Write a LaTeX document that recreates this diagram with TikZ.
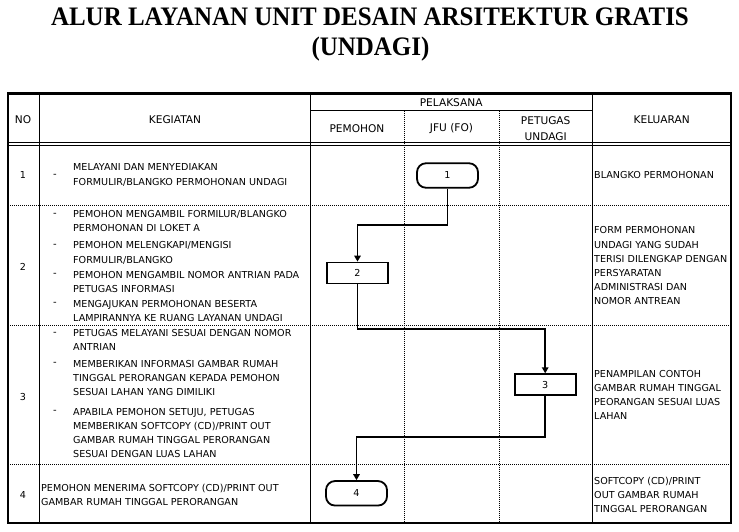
\documentclass[tikz,border=0pt]{standalone}
\usepackage{fontspec}
\setmainfont{DejaVu Sans}
\newfontfamily\titlefont{Liberation Serif}
\usetikzlibrary{arrows.meta}
\tikzset{
  gridline/.style={line width=0.8pt},
  dotline/.style={line width=0.8pt, dash pattern=on 0.9pt off 1.1pt},
  outer/.style={line width=2.6pt},
  flow/.style={line width=1.8pt, -{Triangle[length=6pt,width=6.5pt]}},
  stepbox/.style={draw, line width=1.8pt, minimum width=61pt, minimum height=21pt, inner sep=0pt, font=\fontsize{9.6}{10}\selectfont},
  termbox/.style={stepbox, rounded corners=9pt, minimum height=24.5pt},
  body/.style={inner sep=0pt, anchor=west, align=left, font=\fontsize{9.6}{14.2}\selectfont},
  hdr/.style={inner sep=0pt, align=center, font=\fontsize{10.6}{15.7}\selectfont},
  num/.style={inner sep=0pt, font=\fontsize{9.6}{12}\selectfont},
  dashmark/.style={inner sep=0pt, font=\fontsize{10}{12}\selectfont},
  ttl/.style={inner sep=0pt, anchor=base, font=\titlefont\bfseries\fontsize{26.7}{30}\selectfont},
}
\begin{document}
\begin{tikzpicture}[x=1pt,y=-1pt]
\useasboundingbox (0,0) rectangle (739,532);
% title
\node[ttl] (t1) at (370,25.5) {\scalebox{0.935}[1]{ALUR LAYANAN UNIT DESAIN ARSITEKTUR GRATIS}};
\node[ttl] (t2) at (370.5,55.5) {\scalebox{0.935}[1]{(UNDAGI)}};
% grid
\draw[gridline] (310,110.7) -- (592.3,110.7);
\draw[gridline] (8,142.7) -- (731,142.7);
\draw[gridline] (8,145.5) -- (731,145.5);
\foreach \yy in {205.7,325,464} \draw[dotline] (8,\yy) -- (731,\yy);
\foreach \xx in {404,499} \draw[dotline] (\xx,110.7) -- (\xx,523);
\foreach \xx in {39.5,310,592.3} \draw[gridline] (\xx,93.5) -- (\xx,523);
\draw[outer] (8,93.5) rectangle (731,523);
% header
\node[hdr] (hno) at (23,120) {NO};
\node[hdr] (hkeg) at (175,120) {KEGIATAN};
\node[hdr] (hpel) at (451.2,103) {PELAKSANA};
\node[hdr] (hpem) at (357,128.3) {PEMOHON};
\node[hdr] (hjfu) at (451.5,128.3) {JFU (FO)};
\node[hdr] (hpet) at (545.7,128.8) {PETUGAS\\UNDAGI};
\node[hdr] (hkel) at (661.7,120) {KELUARAN};
% row numbers
\node[num] (r1) at (23,175.5) {1};
\node[num] (r2) at (23,266.7) {2};
\node[num] (r3) at (23,396.7) {3};
\node[num] (r4) at (23,495) {4};
% activities
\node[dashmark] (d11) at (55,175.5) {-};
\node[body] (a11) at (73,175) {MELAYANI DAN MENYEDIAKAN\\FORMULIR/BLANGKO PERMOHONAN UNDAGI};
\node[dashmark] (d21) at (55,214.5) {-};
\node[body] (a21) at (73,220.8) {PEMOHON MENGAMBIL FORMILUR/BLANGKO\\PERMOHONAN DI LOKET A};
\node[dashmark] (d22) at (55,245.7) {-};
\node[body] (a22) at (73,252.8) {PEMOHON MELENGKAPI/MENGISI\\FORMULIR/BLANGKO};
\node[dashmark] (d23) at (55,274.5) {-};
\node[body] (a23) at (73,281.7) {PEMOHON MENGAMBIL NOMOR ANTRIAN PADA\\PETUGAS INFORMASI};
\node[dashmark] (d24) at (55,304) {-};
\node[body] (a24) at (73,311.2) {MENGAJUKAN PERMOHONAN BESERTA\\LAMPIRANNYA KE RUANG LAYANAN UNDAGI};
\node[dashmark] (d31) at (55,333.5) {-};
\node[body] (a31) at (73,340) {PETUGAS MELAYANI SESUAI DENGAN NOMOR\\ANTRIAN};
\node[dashmark] (d32) at (55,363.5) {-};
\node[body] (a32) at (73,378.2) {MEMBERIKAN INFORMASI GAMBAR RUMAH\\TINGGAL PERORANGAN KEPADA PEMOHON\\SESUAI LAHAN YANG DIMILIKI};
\node[dashmark] (d33) at (55,412) {-};
\node[body] (a33) at (73,433) {APABILA PEMOHON SETUJU, PETUGAS\\MEMBERIKAN SOFTCOPY (CD)/PRINT OUT\\GAMBAR RUMAH TINGGAL PERORANGAN\\SESUAI DENGAN LUAS LAHAN};
\node[body] (a41) at (41,495) {PEMOHON MENERIMA SOFTCOPY (CD)/PRINT OUT\\GAMBAR RUMAH TINGGAL PERORANGAN};
% outputs
\node[body] (k1) at (594,175) {BLANGKO PERMOHONAN};
\node[body] (k2) at (594,266) {FORM PERMOHONAN\\UNDAGI YANG SUDAH\\TERISI DILENGKAP DENGAN\\PERSYARATAN\\ADMINISTRASI DAN\\NOMOR ANTREAN};
\node[body] (k3) at (594,395) {PENAMPILAN CONTOH\\GAMBAR RUMAH TINGGAL\\PEORANGAN SESUAI LUAS\\LAHAN};
\node[body] (k4) at (594,495) {SOFTCOPY (CD)/PRINT\\OUT GAMBAR RUMAH\\TINGGAL PERORANGAN};
% flow nodes
\node[termbox] (n1) at (447.5,175.5) {1};
\node[stepbox] (n2) at (357.5,273) {2};
\node[stepbox] (n3) at (545.2,384.7) {3};
\node[termbox] (n4) at (356.5,493.3) {4};
\coordinate (c1) at (357.5,225);
\coordinate (c2) at (545.2,329.3);
\coordinate (c3) at (356.5,437.3);
\draw[flow] (n1.south) |- (c1) -- (n2.north);
\draw[flow] (n2.south) |- (c2) -- (n3.north);
\draw[flow] (n3.south) |- (c3) -- (n4.north);
\end{tikzpicture}
\end{document}
